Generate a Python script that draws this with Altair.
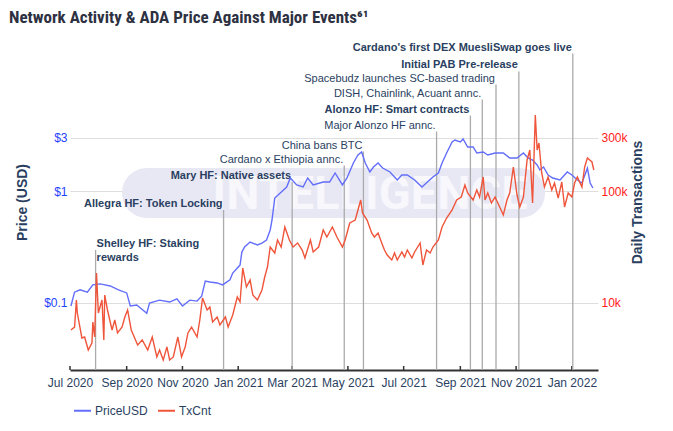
import altair as alt
import pandas as pd

# ---------------- data ----------------
price_dates = [
    "2020-07-02", "2020-07-06", "2020-07-12", "2020-07-20", "2020-07-26", "2020-08-03",
    "2020-08-14", "2020-08-23", "2020-09-01", "2020-09-05", "2020-09-12", "2020-09-23",
    "2020-09-26", "2020-10-07", "2020-10-18", "2020-10-26", "2020-11-01", "2020-11-09",
    "2020-11-17", "2020-11-22", "2020-11-26", "2020-12-01", "2020-12-09", "2020-12-15",
    "2020-12-23", "2020-12-26", "2021-01-03", "2021-01-05", "2021-01-08", "2021-01-14",
    "2021-01-22", "2021-01-27", "2021-02-01", "2021-02-05", "2021-02-07", "2021-02-10",
    "2021-02-16", "2021-02-23", "2021-02-27", "2021-03-06", "2021-03-13", "2021-03-18",
    "2021-03-24", "2021-04-04", "2021-04-11", "2021-04-17", "2021-04-25", "2021-04-30",
    "2021-05-07", "2021-05-12", "2021-05-16", "2021-05-20", "2021-05-25", "2021-05-29",
    "2021-06-03", "2021-06-08", "2021-06-16", "2021-06-24", "2021-06-29", "2021-07-05",
    "2021-07-13", "2021-07-21", "2021-07-27", "2021-08-02", "2021-08-08", "2021-08-12",
    "2021-08-17", "2021-08-23", "2021-08-26", "2021-09-01", "2021-09-04", "2021-09-09",
    "2021-09-15", "2021-09-19", "2021-09-26", "2021-10-01", "2021-10-09", "2021-10-18",
    "2021-10-25", "2021-11-02", "2021-11-09", "2021-11-14", "2021-11-19", "2021-11-24",
    "2021-11-27", "2021-12-01", "2021-12-06", "2021-12-11", "2021-12-19", "2021-12-27",
    "2022-01-01", "2022-01-07", "2022-01-12", "2022-01-18", "2022-01-21", "2022-01-24",
]
price_values = [
    0.094, 0.125, 0.131, 0.125, 0.145, 0.148,
    0.142, 0.131, 0.123, 0.094, 0.096, 0.081,
    0.100, 0.106, 0.102, 0.109, 0.094, 0.106,
    0.104, 0.115, 0.157, 0.154, 0.151, 0.145,
    0.161, 0.185, 0.218, 0.285, 0.316, 0.350,
    0.330, 0.343, 0.365, 0.449, 0.551, 0.866,
    0.960, 1.086, 1.307, 1.132, 1.086, 1.307,
    1.132, 1.203, 1.203, 1.448, 1.132, 1.307,
    1.779, 2.096, 2.229, 1.779, 1.478, 1.638,
    1.779, 1.605, 1.478, 1.254, 1.390, 1.390,
    1.254, 1.086, 1.203, 1.334, 1.448, 1.779,
    2.184, 2.739, 2.854, 2.739, 2.913, 2.471,
    2.471, 2.184, 2.229, 2.096, 2.184, 2.184,
    1.971, 1.971, 2.184, 1.971, 1.892, 1.707,
    1.540, 1.638, 1.390, 1.307, 1.254, 1.478,
    1.390, 1.254, 1.179, 1.600, 1.179, 1.064,
]

tx_dates = [
    "2020-07-02", "2020-07-06", "2020-07-08", "2020-07-09", "2020-07-14", "2020-07-17",
    "2020-07-21", "2020-07-25", "2020-07-26", "2020-07-28", "2020-07-30", "2020-08-01",
    "2020-08-05", "2020-08-07", "2020-08-08", "2020-08-11", "2020-08-16", "2020-08-19",
    "2020-08-22", "2020-08-27", "2020-08-30", "2020-09-02", "2020-09-06", "2020-09-13",
    "2020-09-18", "2020-09-24", "2020-09-29", "2020-10-04", "2020-10-07", "2020-10-11",
    "2020-10-15", "2020-10-18", "2020-10-22", "2020-10-27", "2020-10-31", "2020-11-04",
    "2020-11-07", "2020-11-11", "2020-11-17", "2020-11-20", "2020-11-23", "2020-11-28",
    "2020-12-01", "2020-12-04", "2020-12-09", "2020-12-12", "2020-12-18", "2020-12-21",
    "2020-12-26", "2020-12-31", "2021-01-03", "2021-01-06", "2021-01-10", "2021-01-14",
    "2021-01-17", "2021-01-22", "2021-01-27", "2021-01-30", "2021-02-02", "2021-02-05",
    "2021-02-10", "2021-02-13", "2021-02-17", "2021-02-21", "2021-02-26", "2021-03-02",
    "2021-03-07", "2021-03-12", "2021-03-15", "2021-03-21", "2021-03-24", "2021-03-30",
    "2021-04-04", "2021-04-08", "2021-04-14", "2021-04-19", "2021-04-25", "2021-04-28",
    "2021-05-03", "2021-05-09", "2021-05-12", "2021-05-15", "2021-05-17", "2021-05-22",
    "2021-05-27", "2021-05-30", "2021-06-03", "2021-06-07", "2021-06-10", "2021-06-13",
    "2021-06-18", "2021-06-21", "2021-06-24", "2021-06-29", "2021-07-02", "2021-07-05",
    "2021-07-10", "2021-07-13", "2021-07-19", "2021-07-22", "2021-07-26", "2021-07-30",
    "2021-08-02", "2021-08-08", "2021-08-12", "2021-08-17", "2021-08-23", "2021-08-28",
    "2021-09-02", "2021-09-06", "2021-09-09", "2021-09-15", "2021-09-19", "2021-09-22",
    "2021-09-26", "2021-09-28", "2021-10-01", "2021-10-05", "2021-10-09", "2021-10-14",
    "2021-10-18", "2021-10-22", "2021-10-25", "2021-10-29", "2021-11-02", "2021-11-05",
    "2021-11-09", "2021-11-13", "2021-11-16", "2021-11-19", "2021-11-22", "2021-11-24",
    "2021-11-26", "2021-11-29", "2021-12-02", "2021-12-06", "2021-12-10", "2021-12-13",
    "2021-12-17", "2021-12-21", "2021-12-24", "2021-12-28", "2022-01-01", "2022-01-04",
    "2022-01-07", "2022-01-12", "2022-01-15", "2022-01-18", "2022-01-23", "2022-01-25",
]
tx_values = [
    5740, 6100, 10640, 8140, 4870, 4970,
    3800, 4390, 6770, 4970, 18520, 8140,
    10640, 4670, 11780, 8660, 5740, 7050,
    5400, 6100, 7500, 8660, 5740, 4210,
    4670, 3800, 4970, 3300, 3800, 3100,
    4050, 3100, 3300, 4970, 3300, 4050,
    5400, 6100, 4970, 7050, 11080, 8660,
    9210, 6770, 7500, 6360, 7500, 6100,
    7810, 11310, 10210, 20530, 13890, 16050,
    11780, 10640, 13060, 17070, 20950, 31620,
    27950, 36520, 31620, 47700, 36520, 31620,
    34340, 29730, 25230, 36520, 28530, 31620,
    44850, 38840, 47700, 38840, 31620, 36520,
    51800, 55090, 67670, 83100, 63620, 55090,
    42170, 38840, 42170, 34340, 29730, 26830,
    24210, 27950, 24210, 28530, 25750, 29730,
    25230, 28530, 34340, 21840, 29730, 27950,
    31620, 36520, 47700, 57400, 67670, 83100,
    88380, 113200, 96000, 83100, 102100, 88380,
    133400, 83100, 96000, 78130, 88380, 71970,
    61060, 83100, 96000, 163800, 92120, 71970,
    88380, 189200, 232300, 78130, 477100, 232300,
    268300, 144800, 108600, 133400, 102100, 117900,
    86590, 120300, 71970, 96000, 88380, 117900,
    133400, 108600, 163800, 197100, 181600, 154000,
]

event_dates = [
    "2020-07-29", "2020-12-16", "2021-03-01", "2021-04-27", "2021-05-18", "2021-08-06",
    "2021-09-12", "2021-09-25", "2021-10-10", "2021-11-04", "2022-01-02",
]
event_labels = [
    "Shelley HF: Staking\nrewards",
    "Allegra HF: Token Locking",
    "Mary HF: Native assets",
    "Cardano x Ethiopia annc.",
    "China bans BTC",
    "Major Alonzo HF annc.",
    "Alonzo HF: Smart contracts",
    "DISH, Chainlink, Acuant annc.",
    "Spacebudz launches SC-based trading",
    "Initial PAB Pre-release",
    "Cardano's first DEX MuesliSwap goes live",
]
event_bold = [True, True, True, False, False, False, True, False, False, True, True]
event_left = [True, False, False, False, False, False, False, False, False, False, False]
# price level (USD) at which each annotation sits
event_levels = [0.297, 0.677, 1.203, 1.689, 2.252, 3.398, 4.722, 6.561, 8.931, 11.67, 16.89]

tick_dates = [
    "2020-07-01", "2020-09-01", "2020-11-01", "2021-01-01", "2021-03-01",
    "2021-05-01", "2021-07-01", "2021-09-01", "2021-11-01", "2022-01-01",
]
left_ticks = [0.1, 1, 3]
right_ticks = [10000, 100000, 300000]
series_names = ["PriceUSD", "TxCnt"]

TITLE = "Network Activity & ADA Price Against Major Events\u2076\u00b9"

# ---------------- tables ----------------
price_df = pd.DataFrame({"date": price_dates, "value": price_values, "series": series_names[0]})
tx_df = pd.DataFrame({"date": tx_dates, "value": tx_values, "series": series_names[1]})
events_df = pd.DataFrame({
    "date": event_dates, "label": event_labels, "bold": event_bold,
    "left": event_left, "level": event_levels,
})
ticks_df = pd.DataFrame({"date": tick_dates})

# ---------------- style ----------------
W, H = 528, 330
NAVY = "#2a3f5f"
FONT = "Liberation Sans, Arial, Helvetica, sans-serif"
BLUE_LBL = "#1f45fc"
RED_LBL = "#ff2020"


def dt(s, hours=0):
    y, m, d = s.split("-")
    return alt.DateTime(year=int(y), month=int(m), date=int(d), hours=hours, utc=True)


x_scale = alt.Scale(type="utc", domain=[dt("2020-07-01"), dt("2022-01-29", 14)])
x_axis = alt.Axis(
    values=[dt(s) for s in tick_dates], format="%b %Y", title=None, grid=False,
    ticks=False, tickSize=0, domainColor="#333333", domainWidth=2,
    labelFont=FONT, labelFontSize=12, labelColor=NAVY, labelPadding=7,
    labelFlush=False, labelOverlap=False,
)


def X(field):
    return alt.X(f"{field}:T", scale=x_scale, axis=x_axis)


left_scale = alt.Scale(type="log", domain=[0.02522, 22.30], nice=False)
left_axis = alt.Axis(
    values=left_ticks, labelExpr="'$' + format(datum.value, '~g')",
    title="Price (USD)", grid=True, gridColor="#dedede", gridWidth=1,
    domain=False, ticks=False, labelFont=FONT, labelFontSize=12,
    labelColor=BLUE_LBL, labelPadding=3, titleFont=FONT, titleFontSize=14,
    titleFontWeight="bold", titleColor=NAVY, titleAngle=270, titleX=-48,
    titleY=162, titleAlign="center", titleBaseline="middle",
)


def YL(field):
    return alt.Y(f"{field}:Q", scale=left_scale, axis=left_axis)


right_scale = alt.Scale(type="log", domain=[2522, 2230000], nice=False)
right_axis = alt.Axis(
    values=right_ticks, format="~s", title="Daily Transactions", orient="right",
    grid=False, domain=False, ticks=False, labelFont=FONT, labelFontSize=12,
    labelColor=RED_LBL, labelPadding=3, titleFont=FONT, titleFontSize=14,
    titleFontWeight="bold", titleColor=NAVY, titleAngle=270, titleX=39,
    titleY=162, titleAlign="center", titleBaseline="middle",
)

color_enc = alt.Color(
    "series:N",
    scale=alt.Scale(domain=series_names, range=["#636efa", "#EF553B"]),
    legend=alt.Legend(
        title=None, orient="none", legendX=3, legendY=361, direction="horizontal",
        symbolType="stroke", symbolSize=289, symbolStrokeWidth=2,
        labelFont=FONT, labelFontSize=12, labelColor=NAVY, labelOffset=3,
        columnPadding=6, padding=0,
    ),
)

one = alt.Data(values=[{}])

band = alt.Chart(one).mark_rect(color="#e8e8f5", cornerRadius=25).encode(
    x=alt.value(52), x2=alt.value(475), y=alt.value(128), y2=alt.value(178)
)
wm_text = alt.Chart(one).mark_text(
    text="INTELLIGENCE", font="Roboto", fontWeight="bold", fontSize=47,
    color="#f7f7fc", align="center", baseline="middle",
).encode(x=alt.value(300), y=alt.value(155))

title_text = alt.Chart(one).mark_text(
    text=TITLE, font="Liberation Sans Narrow, Roboto Condensed, DejaVu Sans Condensed, Roboto",
    fontWeight="bold", fontSize=17, color="#2d3142", align="left", baseline="alphabetic",
).encode(x=alt.value(-61), y=alt.value(-17))

tick_marks = alt.Chart(ticks_df).mark_rule(color="#333333", strokeWidth=1.5).encode(
    x=X("date"), y=alt.value(H - 4), y2=alt.value(H)
)

rules = alt.Chart(events_df).mark_rule(color="#ababab", strokeWidth=1.3).encode(
    x=X("date"), y=YL("level"), y2=alt.value(H)
)


def labels(flt, align, dx, weight):
    return alt.Chart(events_df).transform_filter(flt).mark_text(
        align=align, baseline="bottom", dx=dx, dy=-1, font=FONT, fontSize=11,
        fontWeight=weight, color=NAVY, lineBreak="\n", lineHeight=14,
    ).encode(x=X("date"), y=YL("level"), text="label:N")


lab_bold_r = labels("datum.bold && !datum.left", "right", -1, "bold")
lab_norm_r = labels("!datum.bold && !datum.left", "right", -1, "normal")
lab_left = labels("datum.left", "left", 1, "bold")

price_line = alt.Chart(price_df).mark_line(strokeWidth=1.4).encode(
    x=X("date"), y=YL("value"), color=color_enc
)
tx_line = alt.Chart(tx_df).mark_line(strokeWidth=1.4).encode(
    x=X("date"),
    y=alt.Y("value:Q", scale=right_scale, axis=right_axis),
    color=color_enc,
)

left_group = alt.layer(
    band, wm_text, title_text, tick_marks, rules, lab_bold_r, lab_norm_r, lab_left, price_line
)

chart = (
    alt.layer(left_group, tx_line)
    .resolve_scale(y="independent")
    .properties(
        width=W, height=H,
        padding={"left": 62, "top": 32, "right": 67, "bottom": 53},
        autosize=alt.AutoSizeParams(type="none"),
        background="white",
    )
    .configure_view(stroke=None)
)

chart.save("out.html", embed_options={"renderer": "svg", "actions": False})
